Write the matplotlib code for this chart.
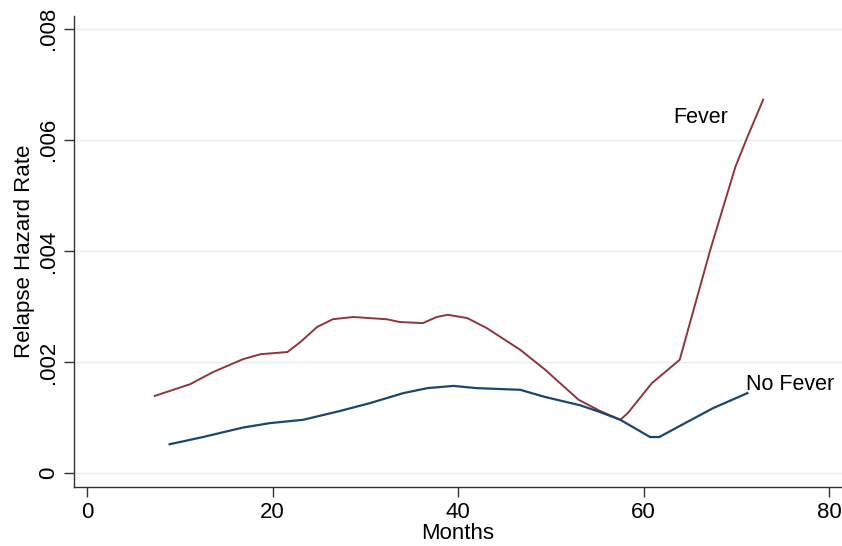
"""
Smoothed relapse hazard by months, fever vs. no fever.
"""
import matplotlib
matplotlib.use("Agg")
import matplotlib.pyplot as plt

# --- hazard estimates ---
fever_months = [7.3, 11.1, 13.6, 16.8, 18.7, 21.6, 23.0, 24.8, 26.5, 28.7, 32.3,
                33.7, 36.2, 37.7, 38.9, 41.0, 43.1, 46.7, 49.4, 53.0, 55.3,
                57.5, 58.3, 60.9, 63.9, 67.2, 69.9, 71.2, 72.9]
fever_rate = [0.00139, 0.00160, 0.00182, 0.00205, 0.00214, 0.00218, 0.00236,
              0.00263, 0.00277, 0.00281, 0.00277, 0.00272, 0.00270, 0.00281,
              0.00285, 0.00279, 0.00261, 0.00222, 0.00186, 0.00132, 0.00112,
              0.00096, 0.00108, 0.00162, 0.00204, 0.00402, 0.00551, 0.00605,
              0.00672]

nofever_months = [8.9, 12.5, 16.8, 19.7, 23.3, 27.3, 30.5, 34.1, 36.7, 39.5,
                  42.0, 46.7, 49.4, 53.2, 55.3, 57.5, 60.7, 61.7, 64.7, 67.5,
                  71.2]
nofever_rate = [0.00052, 0.00065, 0.00082, 0.00090, 0.00096, 0.00112, 0.00126,
                0.00144, 0.00153, 0.00157, 0.00153, 0.00150, 0.00137, 0.00122,
                0.00110, 0.00096, 0.00065, 0.00065, 0.00092, 0.00117, 0.00144]

x_ticks = [0, 20, 40, 60, 80]
y_ticks = [0, 0.002, 0.004, 0.006, 0.008]
y_tick_labels = ["0", ".002", ".004", ".006", ".008"]

NAVY = "#1a476f"
MAROON = "#90353b"
GRID = "#e6eef0"

plt.rcParams["font.family"] = ["Liberation Sans", "DejaVu Sans"]

fig = plt.figure(figsize=(8.42, 5.46), dpi=100)
ax = fig.add_axes([0.088, 0.108, 0.912, 0.863])

ax.plot(fever_months, fever_rate, color=MAROON, lw=1.4)
ax.plot(nofever_months, nofever_rate, color=NAVY, lw=1.6)

ax.text(63.2, 0.00640, "Fever", fontsize=15.5, va="center", ha="left")
ax.text(71.0, 0.00159, "No Fever", fontsize=15.5, va="center", ha="left")

ax.set_xlim(-1.4, 81.4)
ax.set_ylim(-0.00025, 0.00823)
ax.set_xticks(x_ticks)
ax.set_yticks(y_ticks)
ax.set_yticklabels(y_tick_labels, rotation=90, va="center")
ax.tick_params(axis="both", labelsize=16, length=7, width=1, color="#333333")
ax.tick_params(axis="y", pad=4)

ax.grid(axis="y", color=GRID, lw=1)
ax.set_axisbelow(True)
for side in ("top", "right"):
    ax.spines[side].set_visible(False)
for side in ("left", "bottom"):
    ax.spines[side].set_color("#333333")
    ax.spines[side].set_linewidth(1)

ax.set_xlabel("Months", fontsize=16, labelpad=0)
ax.set_ylabel("Relapse Hazard Rate", fontsize=16, labelpad=2)

fig.savefig("out.png", dpi=100)
